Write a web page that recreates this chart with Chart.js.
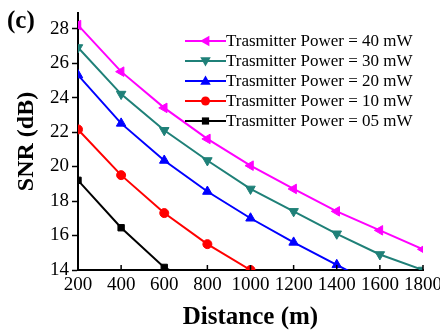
<!DOCTYPE html>
<html><head><meta charset="utf-8">
<script src="https://cdn.jsdelivr.net/npm/chart.js@4"></script>
<style>html,body{margin:0;padding:0;background:#fff;}#wrap{width:440px;height:332px;position:relative;}</style>
</head><body><div id="wrap"><canvas id="c" width="440" height="332"></canvas></div>
<script>
const distances = [200, 400, 600, 800, 1000, 1200, 1400, 1600, 1800];
const seriesLabels = ["Trasmitter Power = 40 mW","Trasmitter Power = 30 mW","Trasmitter Power = 20 mW","Trasmitter Power = 10 mW","Trasmitter Power = 05 mW"];
const snr40 = [28.2, 25.5, 23.4, 21.6, 20.05, 18.7, 17.4, 16.3, 15.2];
const snr30 = [26.9, 24.2, 22.1, 20.35, 18.7, 17.4, 16.1, 14.9, 14.0];
const snr20 = [25.3, 22.5, 20.35, 18.55, 17.0, 15.6, 14.3, 13.0];
const snr10 = [22.15, 19.5, 17.3, 15.5, 14.0];
const snr05 = [19.2, 16.45, 14.15, 12.9];
const yTicks = [14, 16, 18, 20, 22, 24, 26, 28];
const xTicks = [200, 400, 600, 800, 1000, 1200, 1400, 1600, 1800];

const FONT = "'Liberation Serif','Times New Roman',serif";
const styles = [
  {color:'#FF00FF', style:'triangle', rot:270, r:5.5},
  {color:'#1F8078', style:'triangle', rot:180, r:5.5},
  {color:'#0000FF', style:'triangle', rot:0, r:5.5},
  {color:'#FF0000', style:'circle', rot:0, r:4.5},
  {color:'#000000', style:'rect', rot:0, r:4.5}
];
const allSeries = [snr40, snr30, snr20, snr10, snr05];

const datasets = allSeries.map((s,i)=>({
  label: seriesLabels[i],
  data: s.map((v,j)=>({x:distances[j], y:v})),
  borderColor: styles[i].color,
  backgroundColor: styles[i].color,
  borderWidth: 2,
  pointStyle: styles[i].style,
  rotation: styles[i].rot,
  pointRadius: styles[i].r,
  pointBorderWidth: 1,
  tension: 0
}));

function drawMarker(ctx, st, x, y){
  ctx.save();
  ctx.fillStyle = st.color; ctx.strokeStyle = st.color;
  ctx.translate(x,y); ctx.rotate(st.rot*Math.PI/180);
  const r = st.r;
  ctx.beginPath();
  if(st.style==='triangle'){
    ctx.moveTo(0,-r); ctx.lineTo(r*0.95, r*0.7); ctx.lineTo(-r*0.95, r*0.7); ctx.closePath();
  } else if(st.style==='circle'){
    ctx.arc(0,0,r,0,Math.PI*2);
  } else {
    ctx.rect(-r*0.8,-r*0.8,r*1.6,r*1.6);
  }
  ctx.fill();
  ctx.restore();
}

const decor = {
  id:'decor',
  afterDraw(chart){
    const ctx = chart.ctx;
    const xs = chart.scales.x, ys = chart.scales.y;
    ctx.save();
    ctx.strokeStyle='#000'; ctx.lineWidth=1.5;
    xTicks.forEach(v=>{
      const px = xs.getPixelForValue(v);
      ctx.beginPath(); ctx.moveTo(px, ys.bottom); ctx.lineTo(px, ys.bottom-5); ctx.stroke();
    });
    ctx.fillStyle='#000';
    ctx.font = "bold 25px " + FONT;
    ctx.textBaseline='middle'; ctx.textAlign='left';
    ctx.fillText('(c)', 7, 22);
    ctx.font = "17px " + FONT;
    seriesLabels.forEach((lab,i)=>{
      const y = 41 + i*20;
      ctx.strokeStyle = styles[i].color; ctx.lineWidth=2;
      ctx.beginPath(); ctx.moveTo(185,y); ctx.lineTo(226,y); ctx.stroke();
      drawMarker(ctx, styles[i], 205.5, y);
      ctx.fillStyle='#000';
      ctx.fillText(lab, 226, y+1);
    });
    ctx.restore();
  }
};

new Chart(document.getElementById('c'), {
  type:'line',
  data:{datasets},
  options:{
    responsive:false, animation:false,
    layout:{padding:{left:0,right:17,top:13,bottom:0}},
    plugins:{legend:{display:false}, tooltip:{enabled:false}},
    scales:{
      x:{
        type:'linear', min:200, max:1800,
        afterBuildTicks(s){ s.ticks = xTicks.map(v=>({value:v})); },
        afterFit(s){ s.height = 62; s.paddingRight = 0; s.paddingLeft = 0; },
        grid:{display:true, drawOnChartArea:false, drawTicks:false},
        border:{display:true, color:'#000', width:2},
        ticks:{color:'#000', font:{family:FONT, size:19}, padding:4, maxRotation:0, autoSkip:false, callback:v=>String(v)},
        title:{display:true, text:'Distance (m)', color:'#000', font:{family:FONT, size:25, weight:'bold'}, padding:{top:0,bottom:-1}}
      },
      y:{
        type:'linear', min:14, max:28.9,
        afterBuildTicks(s){ s.ticks = yTicks.map(v=>({value:v})); },
        afterFit(s){ s.width = 78; s.paddingTop = 0; s.paddingBottom = 0; },
        grid:{display:true, drawOnChartArea:false, tickLength:6, color:'#000', tickWidth:1.5},
        border:{display:true, color:'#000', width:2},
        ticks:{color:'#000', font:{family:FONT, size:19}, padding:3, callback:v=>String(v)},
        title:{display:true, text:'SNR (dB)', color:'#000', font:{family:FONT, size:24, weight:'bold'}, padding:{top:12,bottom:0}}
      }
    }
  },
  plugins:[decor]
});
</script></body></html>
